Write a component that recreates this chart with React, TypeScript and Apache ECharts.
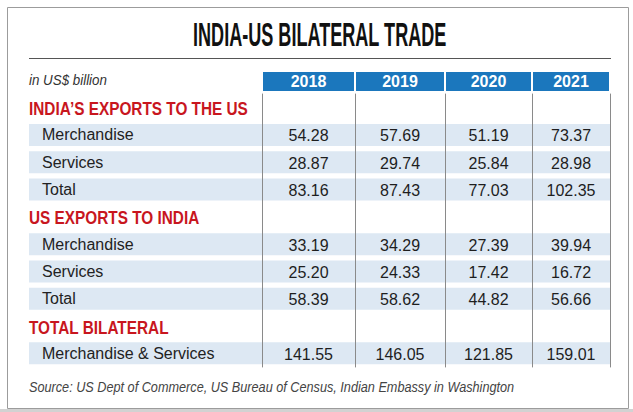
import React, { useEffect, useRef } from 'react';
import * as echarts from 'echarts';

// ---- data ----
const years = ['2018', '2019', '2020', '2021'];
const indiaMerchandise = [54.28, 57.69, 51.19, 73.37];
const indiaServices = [28.87, 29.74, 25.84, 28.98];
const indiaTotal = [83.16, 87.43, 77.03, 102.35];
const usMerchandise = [33.19, 34.29, 27.39, 39.94];
const usServices = [25.2, 24.33, 17.42, 16.72];
const usTotal = [58.39, 58.62, 44.82, 56.66];
const bilateralTotal = [141.55, 146.05, 121.85, 159.01];

const rowLabels = [
  'INDIA’S EXPORTS TO THE US',
  'Merchandise',
  'Services',
  'Total',
  'US EXPORTS TO INDIA',
  'Merchandise',
  'Services',
  'Total',
  'TOTAL BILATERAL',
  'Merchandise & Services',
];
const rowValues: (number[] | null)[] = [
  null,
  indiaMerchandise,
  indiaServices,
  indiaTotal,
  null,
  usMerchandise,
  usServices,
  usTotal,
  null,
  bilateralTotal,
];

const titleText = 'INDIA-US BILATERAL TRADE';
const unitText = 'in US$ billion';
const sourceText = 'Source: US Dept of Commerce, US Bureau of Census, Indian Embassy in Washington';

// ---- layout ----
const W = 633;
const H = 412;
const colEdges = [262, 355, 445, 532, 610];
const gridTop = 94;
const gridBottom = 45;
const labelLeft = 29;

const BLUE = '#1b77bd';
const BAND = '#dde8f3';
const RED = '#c8161e';
const LINE = '#8a8a8a';

function measure(text: string, font: string): number {
  const ctx = document.createElement('canvas').getContext('2d');
  if (!ctx) return 1;
  ctx.font = font;
  return ctx.measureText(text).width || 1;
}

function textEl(text: string, font: string, fill: string, x: number, y: number, scaleX: number) {
  return {
    type: 'text',
    silent: true,
    x,
    y,
    scaleX,
    style: {
      text,
      font,
      fill,
      align: 'left',
      textAlign: 'left',
      verticalAlign: 'middle',
      textVerticalAlign: 'middle',
    },
  };
}

export default function App() {
  const ref = useRef<HTMLDivElement>(null);

  useEffect(() => {
    if (!ref.current) return;
    const chart = echarts.init(ref.current, null, { renderer: 'svg' });

    const rowKeys = rowLabels.map((_, i) => 'r' + i);

    const grids: any[] = [{ left: labelLeft, right: W - colEdges[4], top: gridTop, bottom: gridBottom }];
    const xAxes: any[] = [{ type: 'value', gridIndex: 0, min: 0, max: 1, show: false }];
    const yAxes: any[] = [
      {
        type: 'category',
        gridIndex: 0,
        data: rowKeys,
        inverse: true,
        z: 10,
        axisLine: { show: false },
        axisTick: { show: false },
        splitLine: { show: false },
        axisLabel: {
          inside: true,
          margin: 0,
          interval: 0,
          formatter: (_v: string, i: number) => (rowValues[i] ? `{row|${rowLabels[i]}}` : ''),
          rich: {
            row: {
              fontFamily: 'Liberation Sans',
              fontSize: 16,
              color: '#222',
              padding: [0, 0, 0, 13],
            },
          },
        },
      },
    ];
    const series: any[] = [
      {
        type: 'bar',
        xAxisIndex: 0,
        yAxisIndex: 0,
        silent: true,
        barWidth: 22,
        itemStyle: { color: BAND },
        data: rowValues.map((v) => (v ? 1 : '-')),
      },
    ];

    years.forEach((year, c) => {
      const gi = c + 1;
      const colW = colEdges[c + 1] - colEdges[c];
      grids.push({ left: colEdges[c], width: colW, top: gridTop, bottom: gridBottom });
      xAxes.push({
        type: 'category',
        gridIndex: gi,
        data: [year],
        position: 'top',
        axisLine: { show: false },
        axisTick: { show: false },
        splitLine: { show: false },
        axisLabel: {
          margin: 3,
          interval: 0,
          color: '#fff',
          fontFamily: 'Liberation Sans',
          fontWeight: 'bold',
          fontSize: 16,
          backgroundColor: BLUE,
          width: colW - 2,
          height: 19,
          lineHeight: 19,
          align: 'center',
        },
      });
      const yIdx = yAxes.length;
      yAxes.push({
        type: 'category',
        gridIndex: gi,
        data: rowKeys,
        inverse: true,
        z: 5,
        axisLine: { show: true, lineStyle: { color: LINE, width: 1 } },
        axisTick: { show: false },
        axisLabel: { show: false },
        splitLine: { show: false },
      });
      if (c === years.length - 1) {
        yAxes.push({
          type: 'category',
          gridIndex: gi,
          data: rowKeys,
          inverse: true,
          position: 'right',
          z: 5,
          axisLine: { show: true, lineStyle: { color: LINE, width: 1 } },
          axisTick: { show: false },
          axisLabel: { show: false },
          splitLine: { show: false },
        });
      }
      const data: any[] = [];
      rowValues.forEach((vals, r) => {
        if (vals) data.push([0, r, vals[c]]);
      });
      series.push({
        type: 'custom',
        xAxisIndex: gi,
        yAxisIndex: yIdx,
        silent: true,
        z: 6,
        encode: { x: 0, y: 1 },
        data,
        renderItem: (_p: any, api: any) => {
          const pt = api.coord([api.value(0), api.value(1)]);
          return {
            type: 'text',
            x: pt[0],
            y: pt[1] + 1,
            style: {
              text: Number(api.value(2)).toFixed(2),
              fontFamily: 'Liberation Sans',
              fontSize: 16,
              fill: '#1e1e1e',
              align: 'center',
              verticalAlign: 'middle',
            },
          };
        },
      });
    });

    chart.setOption({
      animation: false,
      backgroundColor: '#ffffff',
      grid: grids,
      xAxis: xAxes,
      yAxis: yAxes,
      series,
    } as any);

    // ---- decorations and section headings (positions from the row axis) ----
    const titleFont = 'bold 33px "Liberation Sans"';
    const titleScale = 254 / measure(titleText, titleFont);
    const unitFont = 'italic 14px "Liberation Sans"';
    const unitScale = 78 / measure(unitText, unitFont);
    const sourceFont = 'italic 15px "Liberation Sans"';
    const sourceScale = 486 / measure(sourceText, sourceFont);
    const secFont = 'bold 19px "Liberation Sans"';
    const secScale = 219 / measure(rowLabels[0], secFont);

    const graphic: any[] = [
      {
        type: 'rect',
        silent: true,
        shape: { x: 7.5, y: 7.5, width: 621, height: 401 },
        style: { fill: 'none', stroke: '#9c9c9c', lineWidth: 1 },
      },
      {
        type: 'rect',
        silent: true,
        shape: { x: 0, y: 409, width: W, height: 3 },
        style: { fill: '#d2d2d2' },
      },
      textEl(titleText, titleFont, '#111', 193, 35, titleScale),
      {
        type: 'line',
        silent: true,
        shape: { x1: 29, y1: 58.5, x2: 611, y2: 58.5 },
        style: { stroke: '#555', lineWidth: 1 },
      },
      textEl(unitText, unitFont, '#333', labelLeft, 80, unitScale),
      textEl(sourceText, sourceFont, '#444', labelLeft, 387, sourceScale),
    ];

    rowValues.forEach((vals, i) => {
      if (vals) return;
      const y = chart.convertToPixel({ yAxisIndex: 0 } as any, rowKeys[i]) as unknown as number;
      graphic.push(textEl(rowLabels[i], secFont, RED, labelLeft, y + 1, secScale));
    });

    chart.setOption({ graphic } as any);
    return () => chart.dispose();
  }, []);

  return (
    <div
      ref={ref}
      style={{ position: 'absolute', left: 0, top: 0, width: W, height: H }}
    />
  );
}
